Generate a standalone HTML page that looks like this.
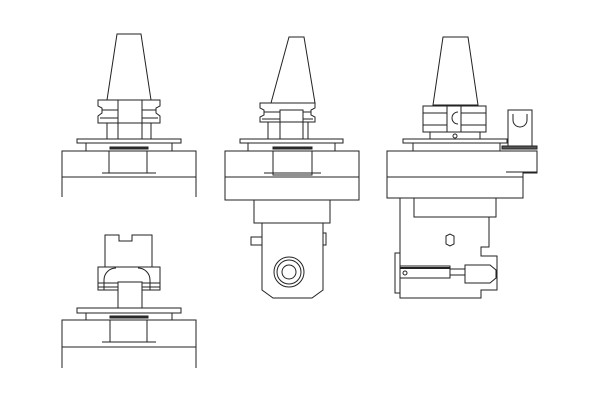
<!DOCTYPE html>
<html><head><meta charset="utf-8"><style>html,body{margin:0;padding:0;background:#fff}svg{display:block}</style></head>
<body>
<svg width="600" height="402" viewBox="0 0 600 402" xmlns="http://www.w3.org/2000/svg" fill="none" stroke="#222" stroke-width="1">
<!-- View 1 -->
<g>
<polygon points="117,34 141,34 151,100 107,100" fill="#fff"/>
<polygon points="98,100 160,100 160,106 156,108 156,113 160,116 160,123 98,123 98,116 102,113 102,108 98,106" fill="#fff"/>
<line x1="102" y1="110" x2="156" y2="110"/><line x1="100" y1="118" x2="158" y2="118"/>
<rect x="118" y="100" width="24" height="43" fill="#fff"/>
<rect x="107" y="123" width="44" height="16"/>
<rect x="77" y="139" width="104" height="4" fill="#fff"/>
<rect x="86" y="143" width="86" height="8" fill="#fff"/>
<rect x="110" y="147" width="38" height="2" fill="#333"/>
<rect x="62" y="151" width="134" height="26" fill="#fff"/>
<line x1="62" y1="177" x2="62" y2="197"/><line x1="196" y1="177" x2="196" y2="197"/>
<rect x="109" y="151" width="38" height="22"/>
<line x1="102" y1="173" x2="156" y2="173"/>
</g>
<!-- View 2 -->
<g>
<polygon points="289,37 304,37 315,103 271,103" fill="#fff"/>
<polygon points="260,103 315,103 315,108 311,110 311,115 315,117 315,122 260,122 260,117 264,115 264,110 260,108" fill="#fff"/>
<line x1="264" y1="112" x2="311" y2="112"/><line x1="262" y1="119" x2="313" y2="119"/>
<rect x="280" y="110" width="23" height="35" fill="#fff"/>
<rect x="268" y="122" width="40" height="17"/>
<rect x="240" y="139" width="103" height="4" fill="#fff"/>
<rect x="248" y="143" width="87" height="8" fill="#fff"/>
<rect x="273" y="147" width="39" height="2" fill="#333"/>
<rect x="225" y="151" width="134" height="49" fill="#fff"/>
<line x1="225" y1="177" x2="359" y2="177"/>
<rect x="273" y="151" width="39" height="24"/>
<line x1="264" y1="173" x2="321" y2="173"/>
<rect x="254" y="200" width="76" height="23" fill="#fff"/>
<polygon points="262,223 323,223 323,290 312,298 273,298 262,290" fill="#fff"/>
<circle cx="289" cy="272" r="15"/><circle cx="289" cy="272" r="12"/><circle cx="289" cy="272" r="7"/>
<rect x="251" y="237" width="11" height="8"/><rect x="323" y="233" width="3" height="12"/>
</g>
<!-- View 3 -->
<g>
<polygon points="443,37 468,37 478,105 433,105" fill="#fff"/>
<rect x="423" y="106" width="63" height="26" fill="#fff"/>
<line x1="423" y1="113" x2="486" y2="113"/><line x1="423" y1="125" x2="486" y2="125"/>
<rect x="447" y="106" width="14" height="26" fill="#fff"/>
<path d="M458 112 a6 6 0 0 0 0 12"/>
<rect x="430" y="132" width="50" height="7" fill="#fff"/>
<circle cx="455" cy="136" r="2"/>
<rect x="403" y="139" width="104" height="4" fill="#fff"/>
<rect x="413" y="143" width="87" height="8" fill="#fff"/>
<rect x="508" y="110" width="24" height="37" fill="#fff"/>
<path d="M513 114 v6 a6 6 0 0 0 14 0 v-6"/>
<rect x="502" y="146" width="35" height="3" fill="#555"/>
<polygon points="387,151 537,151 537,173 523,173 523,198 387,198" fill="#fff"/>
<line x1="387" y1="177" x2="523" y2="177"/><line x1="506" y1="172" x2="537" y2="172"/>
<polygon points="400,198 489,198 489,247 481,247 481,256 497,256 497,290 481,290 481,298 400,298" fill="#fff"/>
<rect x="414" y="198" width="82" height="19" fill="#fff"/>
<polygon points="446,236 450,234 454,236 454,244 450,246 446,244"/>
<rect x="395" y="253" width="5" height="40"/>
<rect x="400" y="266" width="50" height="12"/><line x1="400" y1="268" x2="450" y2="268" stroke-width="2"/>
<rect x="450" y="269" width="15" height="6"/>
<polygon points="465,265 490,265 496,270 496,278 490,283 465,283" fill="#fff"/>
<circle cx="405" cy="273" r="2"/>
</g>
<!-- View 4 -->
<g>
<path d="M105 267 V235 H119 V241 H132 V235 H152 V267" fill="#fff"/>
<rect x="98" y="267" width="62" height="23" fill="#fff"/>
<path d="M104 290 V280 a12 12 0 0 1 12 -12 M150 290 V280 a12 12 0 0 0 -12 -12"/>
<line x1="98" y1="283" x2="160" y2="283"/><line x1="98" y1="287" x2="160" y2="287"/>
<rect x="118" y="282" width="24" height="28" fill="#fff"/>
<rect x="77" y="308" width="104" height="5" fill="#fff"/>
<rect x="86" y="313" width="86" height="7" fill="#fff"/>
<rect x="110" y="316" width="38" height="2" fill="#333"/>
<rect x="62" y="320" width="134" height="27" fill="#fff"/>
<line x1="62" y1="347" x2="62" y2="368"/><line x1="196" y1="347" x2="196" y2="368"/>
<rect x="110" y="320" width="37" height="22"/>
<line x1="102" y1="342" x2="156" y2="342"/>
</g>
</svg>
</body></html>
